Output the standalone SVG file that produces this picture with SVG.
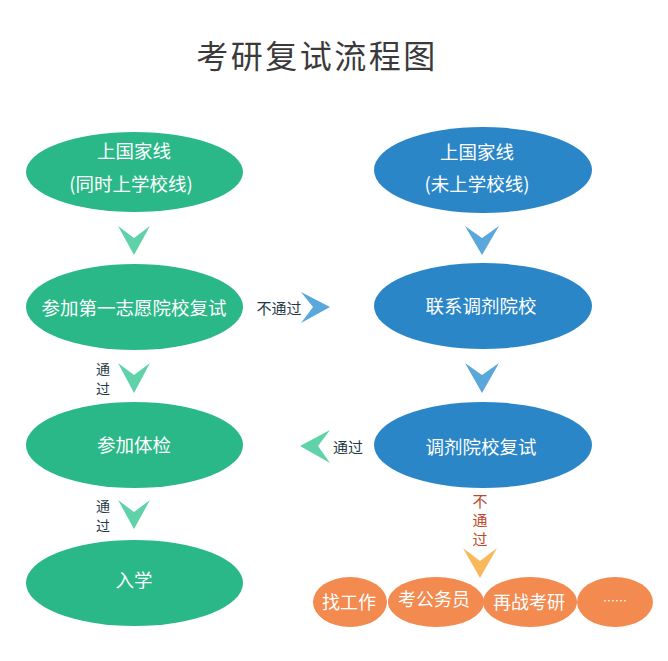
<svg xmlns="http://www.w3.org/2000/svg" width="668" height="661" viewBox="0 0 668 661">
<style>
.t{font-family:"Noto Sans CJK SC","Noto Sans",sans-serif;}
.title{font-size:32px;fill:#3a3a3a;letter-spacing:2.5px;}
.nt{font-size:18.5px;fill:#ffffff;text-anchor:middle;dominant-baseline:central;}
.ot{font-size:18px;fill:#ffffff;text-anchor:middle;dominant-baseline:central;}
.lbl{font-size:15px;fill:#1f3a4a;text-anchor:middle;dominant-baseline:central;}
.vl{font-size:14px;fill:#1f3a4a;text-anchor:middle;}
.vr{font-size:15px;fill:#c0482a;text-anchor:middle;}
.g{fill:#2bb888;}
.b{fill:#2a86c7;}
.o{fill:#f38a4f;}
.gc{fill:#5fd2a9;}
.bc{fill:#5aa7dc;}
.oc{fill:#f9b95a;}
</style>
<rect width="668" height="661" fill="#ffffff"/>
<text class="t title" x="317" y="68" text-anchor="middle">考研复试流程图</text>

<g id="connectors">
  <path class="gc" d="M118,226 L134,238 L150,226 L134,255 Z"/>
  <path class="gc" d="M118,363 L134,375 L150,363 L134,393 Z"/>
  <path class="gc" d="M118,500 L134,512 L150,500 L134,529 Z"/>
  <path class="bc" d="M465,226 L482,238 L499,226 L482,255 Z"/>
  <path class="bc" d="M465,363 L482,375 L499,363 L482,393 Z"/>
  <path class="bc" d="M301,292 L313,307 L301,323 L330,307 Z"/>
  <path class="gc" d="M330,430 L318,446 L330,463 L300,446 Z"/>
  <path class="oc" d="M463,548 L480,561 L497,548 L480,578 Z"/>
  <text class="t lbl" x="279" y="307">不通过</text>
  <text class="t lbl" x="348" y="446">通过</text>
  <text class="t vl" x="103" y="374">通<tspan x="103" dy="19.5">过</tspan></text>
  <text class="t vl" x="103" y="511">通<tspan x="103" dy="19.5">过</tspan></text>
  <text class="t vr" x="480" y="507">不<tspan x="480" dy="19">通</tspan><tspan x="480" dy="19">过</tspan></text>
</g>

<g id="n1">
  <ellipse class="g" cx="134.5" cy="172" rx="108.5" ry="40"/>
  <text class="t nt" x="134" y="150">上国家线</text>
  <text class="t nt" x="131" y="183">(同时上学校线)</text>
</g>
<g id="n2">
  <ellipse class="g" cx="134.5" cy="307" rx="108.5" ry="43"/>
  <text class="t nt" x="134" y="307">参加第一志愿院校复试</text>
</g>
<g id="n3">
  <ellipse class="g" cx="134.5" cy="445" rx="108.5" ry="43"/>
  <text class="t nt" x="134" y="444">参加体检</text>
</g>
<g id="n4">
  <ellipse class="g" cx="134.5" cy="583" rx="108.5" ry="43"/>
  <text class="t nt" x="134" y="579">入学</text>
</g>
<g id="n5">
  <ellipse class="b" cx="483" cy="170" rx="109" ry="43"/>
  <text class="t nt" x="477" y="151">上国家线</text>
  <text class="t nt" x="477" y="183">(未上学校线)</text>
</g>
<g id="n6">
  <ellipse class="b" cx="483" cy="306" rx="109" ry="43"/>
  <text class="t nt" x="481" y="305">联系调剂院校</text>
</g>
<g id="n7">
  <ellipse class="b" cx="483" cy="445" rx="109" ry="43"/>
  <text class="t nt" x="481" y="446">调剂院校复试</text>
</g>
<g id="n8">
  <ellipse class="o" cx="350" cy="602" rx="37" ry="25"/>
  <text class="t ot" x="349" y="601">找工作</text>
</g>
<g id="n9">
  <ellipse class="o" cx="436" cy="602" rx="48" ry="25"/>
  <text class="t ot" x="434" y="598">考公务员</text>
</g>
<g id="n10">
  <ellipse class="o" cx="530" cy="602" rx="47" ry="25"/>
  <text class="t ot" x="529" y="601">再战考研</text>
</g>
<g id="n11">
  <ellipse class="o" cx="615" cy="602" rx="38" ry="25"/>
  <text class="t ot" x="615" y="600" style="font-size:12px">……</text>
</g>
</svg>
